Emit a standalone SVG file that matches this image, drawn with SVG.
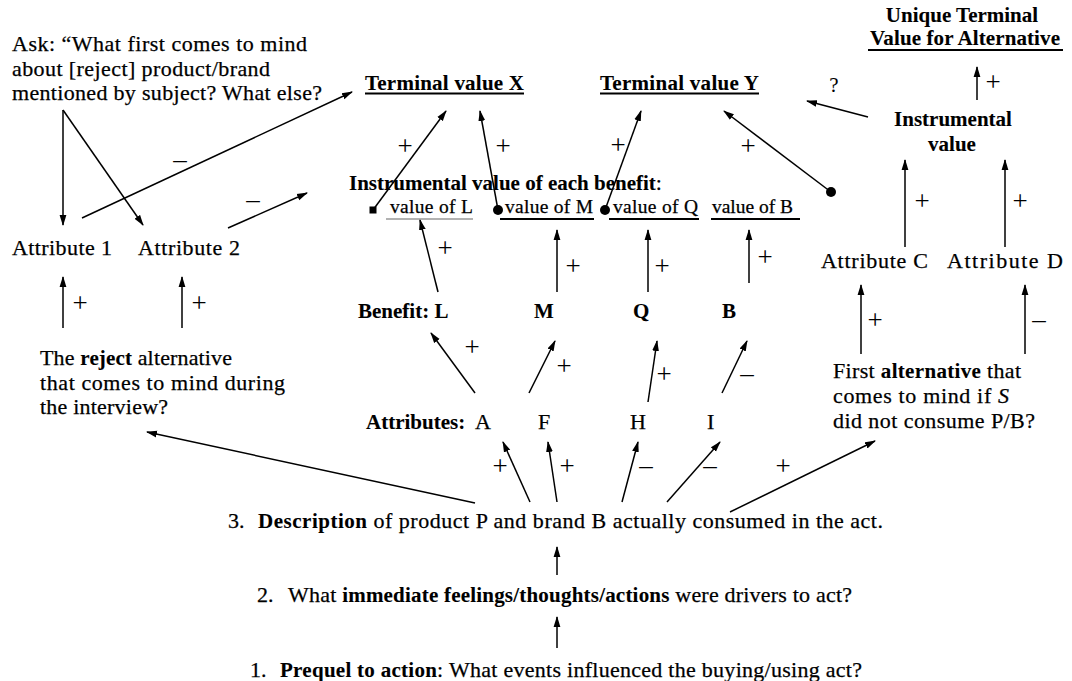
<svg xmlns="http://www.w3.org/2000/svg" width="1072" height="681" viewBox="0 0 1072 681">
  <style>
    .t { font-family: "Liberation Serif", "Times New Roman", serif; font-size: 22px; fill: #000; stroke: #000; stroke-width: 0.25px; }
    .b { font-weight: bold; font-size: 21px; stroke-width: 0.1px; }
    .i { font-style: italic; }
    .v { font-size: 19.5px; }
    .sg { font-family: "Liberation Serif", "Times New Roman", serif; fill: #000; text-anchor: middle; }
    .q { font-size: 21px; }
    .mid { text-anchor: middle; }
    .c line { stroke: #000; stroke-width: 1.5; fill: none; }
    .a { marker-end: url(#ah); }
    .ul { stroke: #000; stroke-width: 2; }
    .ul-thin { stroke: #666; stroke-width: 1.2; }
  </style>
  <defs>
    <marker id="ah" markerUnits="userSpaceOnUse" markerWidth="11" markerHeight="8" refX="10" refY="4" orient="auto">
      <path d="M0,0.6 L11,4 L0,7.4 z" fill="#000"/>
    </marker>
  </defs>
  <rect width="1072" height="681" fill="#fff"/>

  <!-- Connectors -->
  <g id="connectors" class="c">
    <line class="a" x1="63" y1="110" x2="63" y2="225"/>
    <line class="a" x1="63" y1="110" x2="143" y2="225"/>
    <line class="a" x1="82" y1="218" x2="352" y2="92"/>
    <line class="a" x1="228" y1="228" x2="307" y2="193"/>
    <line class="a" x1="373" y1="210" x2="446" y2="111"/>
    <line class="a" x1="498" y1="210" x2="480" y2="111"/>
    <line class="a" x1="605" y1="210" x2="641" y2="111"/>
    <line class="a" x1="831" y1="192" x2="724" y2="111"/>
    <line class="a" x1="868" y1="117" x2="807" y2="101"/>
    <line class="a" x1="977" y1="100" x2="977" y2="67"/>
    <line class="a" x1="905" y1="247" x2="905" y2="160"/>
    <line class="a" x1="1005" y1="247" x2="1005" y2="160"/>
    <line class="a" x1="861" y1="354" x2="861" y2="285"/>
    <line class="a" x1="1025" y1="354" x2="1025" y2="285"/>
    <line class="a" x1="63" y1="328" x2="63" y2="277"/>
    <line class="a" x1="182" y1="328" x2="182" y2="277"/>
    <line class="a" x1="438" y1="292" x2="420" y2="220"/>
    <line class="a" x1="557" y1="292" x2="557" y2="230"/>
    <line class="a" x1="648" y1="292" x2="648" y2="230"/>
    <line class="a" x1="749" y1="283" x2="749" y2="230"/>
    <line class="a" x1="475" y1="393" x2="431" y2="333"/>
    <line class="a" x1="529" y1="393" x2="555" y2="341"/>
    <line class="a" x1="648" y1="402" x2="657" y2="341"/>
    <line class="a" x1="722" y1="393" x2="747" y2="341"/>
    <line class="a" x1="475" y1="503" x2="147" y2="432"/>
    <line class="a" x1="530" y1="502" x2="503" y2="442"/>
    <line class="a" x1="557" y1="502" x2="548" y2="442"/>
    <line class="a" x1="622" y1="502" x2="638" y2="442"/>
    <line class="a" x1="667" y1="502" x2="720" y2="442"/>
    <line class="a" x1="730" y1="512" x2="875" y2="441"/>
    <line class="a" x1="557" y1="575" x2="557" y2="547"/>
    <line class="a" x1="557" y1="648" x2="557" y2="617"/>
    <!-- line-end symbols -->
    <rect x="369.5" y="206.5" width="7" height="7" fill="#000"/>
    <circle cx="498" cy="210" r="5" fill="#000"/>
    <circle cx="605" cy="210" r="5" fill="#000"/>
    <circle cx="831" cy="192" r="5" fill="#000"/>
  </g>

  <!-- Sign labels -->
  <g id="signs" class="sg" font-size="27">
    <text x="180" y="168">–</text>
    <text x="253" y="208">–</text>
    <text x="405" y="155">+</text>
    <text x="503" y="155">+</text>
    <text x="618" y="154">+</text>
    <text x="748" y="155">+</text>
    <text x="445" y="257">+</text>
    <text x="573" y="275">+</text>
    <text x="662" y="275">+</text>
    <text x="765" y="266">+</text>
    <text x="472" y="356">+</text>
    <text x="564" y="375">+</text>
    <text x="664" y="383">+</text>
    <text x="747" y="382">–</text>
    <text x="500" y="475">+</text>
    <text x="567" y="475">+</text>
    <text x="646" y="474">–</text>
    <text x="710" y="474">–</text>
    <text x="783" y="475">+</text>
    <text x="80" y="312">+</text>
    <text x="199" y="312">+</text>
    <text x="993" y="91">+</text>
    <text x="922" y="210">+</text>
    <text x="1020" y="210">+</text>
    <text x="875" y="329">+</text>
    <text x="1039" y="328">–</text>
    <text x="834" y="92" font-size="21">?</text>
  </g>

  <g id="ask">
    <text class="t" x="12" y="51" textLength="295">Ask: “What first comes to mind</text>
    <text class="t" x="12" y="76" textLength="258">about [reject] product/brand</text>
    <text class="t" x="12" y="100" textLength="310">mentioned by subject? What else?</text>
  </g>

  <g id="terminal-x">
    <text class="t b" x="365" y="90" textLength="159">Terminal value X</text>
    <line class="ul" x1="365" y1="93.5" x2="524" y2="93.5"/>
  </g>
  <g id="terminal-y">
    <text class="t b" x="600" y="90" textLength="159">Terminal value Y</text>
    <line class="ul" x1="600" y1="93.5" x2="759" y2="93.5"/>
  </g>

  <g id="unique-terminal">
    <text class="t b mid" x="962" y="22">Unique Terminal</text>
    <text class="t b mid" x="965" y="45" textLength="190">Value for Alternative</text>
    <line class="ul" x1="868" y1="50" x2="1063" y2="50"/>
  </g>

  <g id="instrumental-value">
    <text class="t b mid" x="953" y="126">Instrumental</text>
    <text class="t b mid" x="952" y="151">value</text>
  </g>

  <g id="instrumental-benefits">
    <text class="t" x="349" y="190"><tspan class="b">Instrumental value of each benefit</tspan>:</text>
  </g>

  <g id="value-l">
    <text class="t v" x="390" y="213" textLength="83">value of L</text>
    <line class="ul-thin" x1="386" y1="219" x2="473" y2="219"/>
  </g>
  <g id="value-m">
    <text class="t v" x="505" y="213" textLength="88">value of M</text>
    <line class="ul" x1="500" y1="219" x2="594" y2="219"/>
  </g>
  <g id="value-q">
    <text class="t v" x="613" y="213" textLength="85">value of Q</text>
    <line class="ul" x1="609" y1="219" x2="699" y2="219"/>
  </g>
  <g id="value-b">
    <text class="t v" x="712" y="213" textLength="81">value of B</text>
    <line class="ul" x1="711" y1="219" x2="800" y2="219"/>
  </g>

  <g id="attribute-1"><text class="t" x="12" y="255" textLength="100">Attribute 1</text></g>
  <g id="attribute-2"><text class="t" x="138" y="255" textLength="102">Attribute 2</text></g>
  <g id="attribute-c"><text class="t" x="821" y="268" textLength="107">Attribute C</text></g>
  <g id="attribute-d"><text class="t" x="947" y="268" textLength="116">Attribute D</text></g>

  <g id="benefits">
    <text class="t b" x="358" y="318">Benefit: L</text>
    <text class="t b" x="534" y="318">M</text>
    <text class="t b" x="633" y="318">Q</text>
    <text class="t b" x="722" y="318">B</text>
  </g>

  <g id="attributes">
    <text class="t b" x="366" y="429">Attributes:</text>
    <text class="t" x="475" y="429">A</text>
    <text class="t" x="538" y="429">F</text>
    <text class="t" x="630" y="429">H</text>
    <text class="t" x="707" y="429">I</text>
  </g>

  <g id="reject-alternative">
    <text class="t" x="40" y="365" textLength="192">The <tspan class="b">reject</tspan> alternative</text>
    <text class="t" x="40" y="390" textLength="245">that comes to mind during</text>
    <text class="t" x="40" y="414" textLength="128">the interview?</text>
  </g>

  <g id="first-alternative">
    <text class="t" x="833" y="378" textLength="188">First <tspan class="b">alternative</tspan> that</text>
    <text class="t" x="833" y="403" textLength="176">comes to mind if <tspan class="i">S</tspan></text>
    <text class="t" x="833" y="428" textLength="202">did not consume P/B?</text>
  </g>

  <g id="step-3">
    <text class="t" x="228" y="528">3.</text>
    <text class="t" x="258" y="528" textLength="625"><tspan class="b">Description</tspan> of product P and brand B actually consumed in the act.</text>
  </g>
  <g id="step-2">
    <text class="t" x="257" y="602">2.</text>
    <text class="t" x="288" y="602" textLength="564">What <tspan class="b">immediate feelings/thoughts/actions</tspan> were drivers to act?</text>
  </g>
  <g id="step-1">
    <text class="t" x="250" y="677">1.</text>
    <text class="t" x="280" y="677" textLength="582"><tspan class="b">Prequel to action</tspan>: What events influenced the buying/using act?</text>
  </g>
</svg>
